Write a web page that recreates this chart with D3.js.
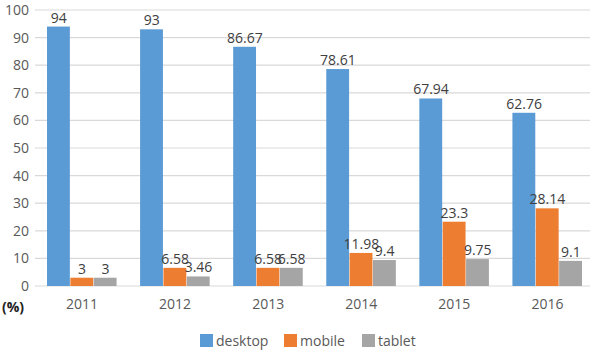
<!DOCTYPE html>
<html><head><meta charset="utf-8">
<script src="https://cdn.jsdelivr.net/npm/d3@7"></script>
<style>body{margin:0;background:#fff}svg{display:block}text{font-family:"Open Sans",sans-serif}</style>
</head><body><svg id="c" width="594" height="355"></svg>
<script>
const years = ["2011","2012","2013","2014","2015","2016"];
const seriesNames = ["desktop","mobile","tablet"];
const desktop = [94, 93, 86.67, 78.61, 67.94, 62.76];
const mobile = [3, 6.58, 6.58, 11.98, 23.3, 28.14];
const tablet = [3, 3.46, 6.58, 9.4, 9.75, 9.1];
const yTicks = [0,10,20,30,40,50,60,70,80,90,100];
const colors = ["#5B9BD5","#ED7D31","#A5A5A5"];
const seriesValues = [desktop, mobile, tablet];

const svg = d3.select("#c");
const x = d3.scaleBand().domain(years).range([35.5, 594]).paddingInner(0).paddingOuter(0);
const y = d3.scaleLinear().domain([0,100]).range([286, 10]);
const inner = d3.scaleBand().domain(seriesNames).range([11.5, x.bandwidth()-11.5]);

// gridlines
svg.append("g").selectAll("line").data(yTicks).join("line")
  .attr("x1", 35).attr("x2", 590)
  .attr("y1", d=>y(d)).attr("y2", d=>y(d))
  .attr("stroke", "#D9D9D9").attr("stroke-width", 1.2);

// y axis labels
const ya = svg.append("g").attr("transform","translate(29,0)")
  .call(d3.axisLeft(y).tickValues(yTicks).tickSize(0).tickPadding(0));
ya.select(".domain").remove();
ya.selectAll("text").attr("font-size", 14).attr("fill", "#595959").attr("font-family","Open Sans, sans-serif");

// x axis labels
const xa = svg.append("g").attr("transform","translate(0,296)")
  .call(d3.axisBottom(x).tickSize(0).tickPadding(0));
xa.select(".domain").remove();
xa.selectAll("text").attr("font-size", 14).attr("fill", "#595959").attr("dy","0.9em").attr("font-family","Open Sans, sans-serif");

// bars
seriesNames.forEach((s, si) => {
  const g = svg.append("g");
  g.selectAll("rect").data(years).join("rect")
    .attr("x", d => x(d) + inner(s))
    .attr("width", inner.bandwidth() - 0.5)
    .attr("y", (d,i) => y(seriesValues[si][i]))
    .attr("height", (d,i) => y(0) - y(seriesValues[si][i]))
    .attr("fill", colors[si]);
  g.selectAll("text").data(years).join("text")
    .attr("x", d => x(d) + inner(s) + inner.bandwidth()/2)
    .attr("y", (d,i) => y(seriesValues[si][i]) - 4)
    .attr("text-anchor","middle").attr("font-size", 14).attr("fill","#404040")
    .text((d,i) => seriesValues[si][i]);
});

// (%)
svg.append("text").attr("x", 2).attr("y", 312).attr("font-size", 14)
  .attr("font-weight","bold").attr("fill","#222").text("(%)");

// legend
const legX = [200, 284, 362];
seriesNames.forEach((s, i) => {
  svg.append("rect").attr("x", legX[i]).attr("y", 334).attr("width", 13).attr("height", 13).attr("fill", colors[i]);
  svg.append("text").attr("x", legX[i]+16).attr("y", 346).attr("font-size", 14).attr("fill","#595959").text(s);
});
</script></body></html>
